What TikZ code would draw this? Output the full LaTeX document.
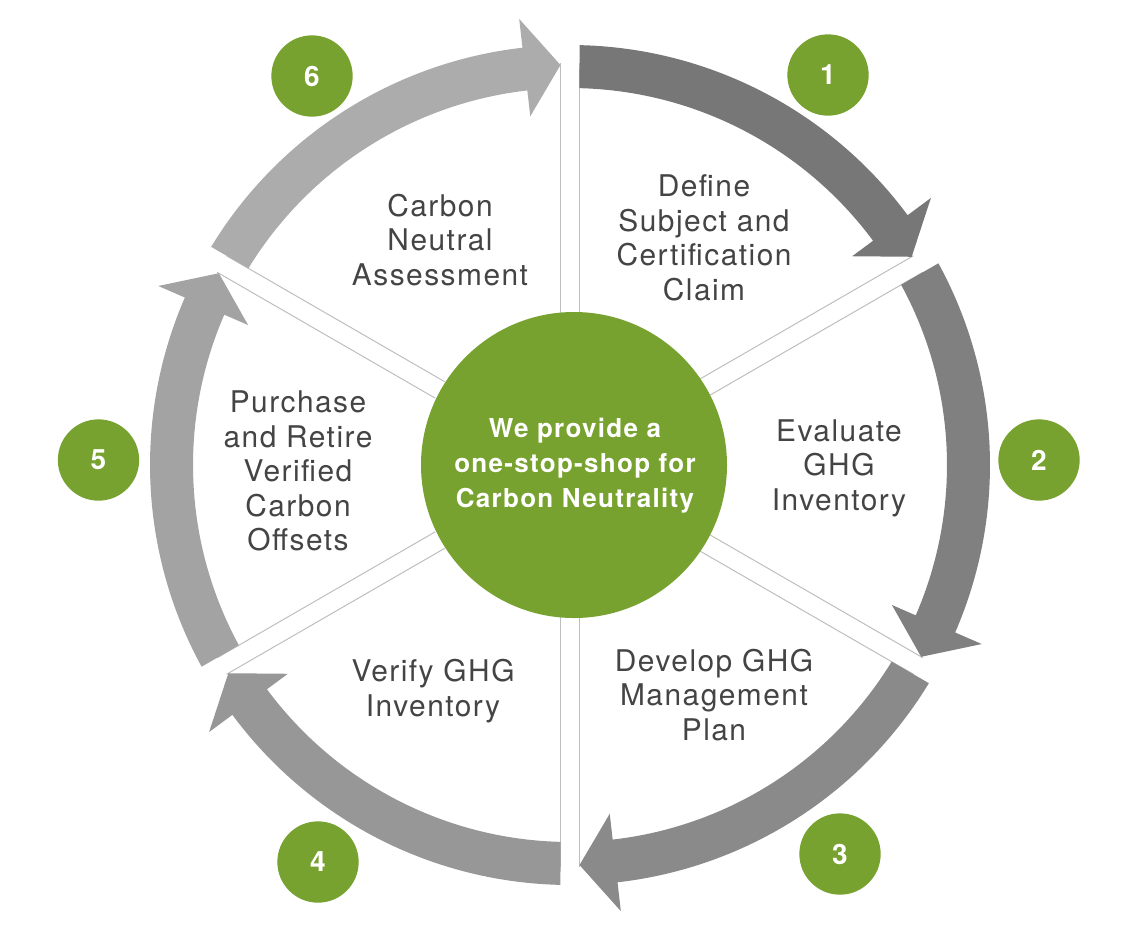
\documentclass[tikz,border=0pt]{standalone}
\usepackage{fontspec}
\setmainfont{TeX Gyre Heros}
\newfontfamily\stepfont[LetterSpace=5]{TeX Gyre Heros}
\newfontfamily\hubfont[LetterSpace=5]{TeX Gyre Heros}

\tikzset{every picture/.style={line width=0.75pt}}
\tikzset{
	steptext/.style={align=center, inner sep=0pt, text={rgb, 255:red, 68; green, 68; blue, 68 }, font=\stepfont\fontsize{22.4}{25.9}\selectfont},
	hubtext/.style={align=center, inner sep=0pt, text=white, font=\hubfont\bfseries\fontsize{19.5}{26.2}\selectfont},
	stepno/.style={circle, minimum size=61, inner sep=0pt, fill={rgb, 255:red, 120; green, 162; blue, 47 }, text=white, font=\bfseries\fontsize{21}{22}\selectfont},
	divline/.style={draw={rgb, 255:red, 190; green, 190; blue, 190 }, line width=0.75},
}

\begin{document}
\begin{tikzpicture}[x=0.75pt,y=0.75pt,yscale=-1,xscale=1]
	\useasboundingbox (0,0) rectangle (1135,926); %set diagram to 1135 x 926

	%Straight Lines: divider pairs
	\draw [divline, shift={(570,465)}, rotate=0]   (-9.5,-150) -- (-9.5,-402) (9.5,-150) -- (9.5,-402) ;
	\draw [divline, shift={(570,465)}, rotate=60]  (-9.5,-150) -- (-9.5,-402) (9.5,-150) -- (9.5,-402) ;
	\draw [divline, shift={(570,465)}, rotate=120] (-9.5,-150) -- (-9.5,-402) (9.5,-150) -- (9.5,-402) ;
	\draw [divline, shift={(570,465)}, rotate=180] (-9.5,-150) -- (-9.5,-402) (9.5,-150) -- (9.5,-402) ;
	\draw [divline, shift={(570,465)}, rotate=240] (-9.5,-150) -- (-9.5,-402) (9.5,-150) -- (9.5,-402) ;
	\draw [divline, shift={(570,465)}, rotate=300] (-9.5,-150) -- (-9.5,-402) (9.5,-150) -- (9.5,-402) ;

	%Shape: Arc arrow 1
	\fill [fill={rgb, 255:red, 119; green, 119; blue, 119 }, shift={(570,465)}, rotate=0] (-88.7:420) arc [start angle=-88.7, end angle=-36.5, radius=420] -- (-36.5:449) -- ([shift={(-120:9.5)}]-30:400) -- (-36.5:351) -- (-36.5:377) arc [start angle=-36.5, end angle=-88.56, radius=377] -- cycle ;
	%Shape: Arc arrow 2
	\fill [fill={rgb, 255:red, 128; green, 128; blue, 128 }, shift={(570,465)}, rotate=60] (-88.7:420) arc [start angle=-88.7, end angle=-36.5, radius=420] -- (-36.5:449) -- ([shift={(-120:9.5)}]-30:400) -- (-36.5:351) -- (-36.5:377) arc [start angle=-36.5, end angle=-88.56, radius=377] -- cycle ;
	%Shape: Arc arrow 3
	\fill [fill={rgb, 255:red, 138; green, 138; blue, 138 }, shift={(570,465)}, rotate=120] (-88.7:420) arc [start angle=-88.7, end angle=-36.5, radius=420] -- (-36.5:449) -- ([shift={(-120:9.5)}]-30:400) -- (-36.5:351) -- (-36.5:377) arc [start angle=-36.5, end angle=-88.56, radius=377] -- cycle ;
	%Shape: Arc arrow 4
	\fill [fill={rgb, 255:red, 151; green, 151; blue, 151 }, shift={(570,465)}, rotate=180] (-88.7:420) arc [start angle=-88.7, end angle=-36.5, radius=420] -- (-36.5:449) -- ([shift={(-120:9.5)}]-30:400) -- (-36.5:351) -- (-36.5:377) arc [start angle=-36.5, end angle=-88.56, radius=377] -- cycle ;
	%Shape: Arc arrow 5
	\fill [fill={rgb, 255:red, 163; green, 163; blue, 163 }, shift={(570,465)}, rotate=240] (-88.7:420) arc [start angle=-88.7, end angle=-36.5, radius=420] -- (-36.5:449) -- ([shift={(-120:9.5)}]-30:400) -- (-36.5:351) -- (-36.5:377) arc [start angle=-36.5, end angle=-88.56, radius=377] -- cycle ;
	%Shape: Arc arrow 6
	\fill [fill={rgb, 255:red, 172; green, 172; blue, 172 }, shift={(570,465)}, rotate=300] (-88.7:420) arc [start angle=-88.7, end angle=-36.5, radius=420] -- (-36.5:449) -- ([shift={(-120:9.5)}]-30:400) -- (-36.5:351) -- (-36.5:377) arc [start angle=-36.5, end angle=-88.56, radius=377] -- cycle ;

	%Shape: Circle (hub)
	\fill [fill={rgb, 255:red, 120; green, 162; blue, 47 }] (574,465) circle [radius=153] ;

	% Text Node
	\node [hubtext] (hub) at (575,466) {We provide a\\one-stop-shop for\\Carbon Neutrality};

	% Step labels
	\node [steptext] (define) at (704,238) {Define\\Subject and\\Certification\\Claim};
	\node [steptext] (evaluate) at (839,468) {Evaluate\\GHG\\Inventory};
	\node [steptext] (develop) at (714,695) {Develop GHG\\Management\\Plan};
	\node [steptext] (verify) at (433,691) {Verify GHG\\Inventory};
	\node [steptext] (purchase) at (298,471) {Purchase\\and Retire\\Verified\\Carbon\\Offsets};
	\node [steptext] (assess) at (440,240) {Carbon\\Neutral\\Assessment};

	% Step numbers
	\node [stepno] (no1) at (828,75) {1};
	\node [stepno] (no2) at (1039,460) {2};
	\node [stepno] (no3) at (840,854) {3};
	\node [stepno] (no4) at (318,862) {4};
	\node [stepno] (no5) at (98.5,460) {5};
	\node [stepno] (no6) at (312,76) {6};

\end{tikzpicture}
\end{document}
